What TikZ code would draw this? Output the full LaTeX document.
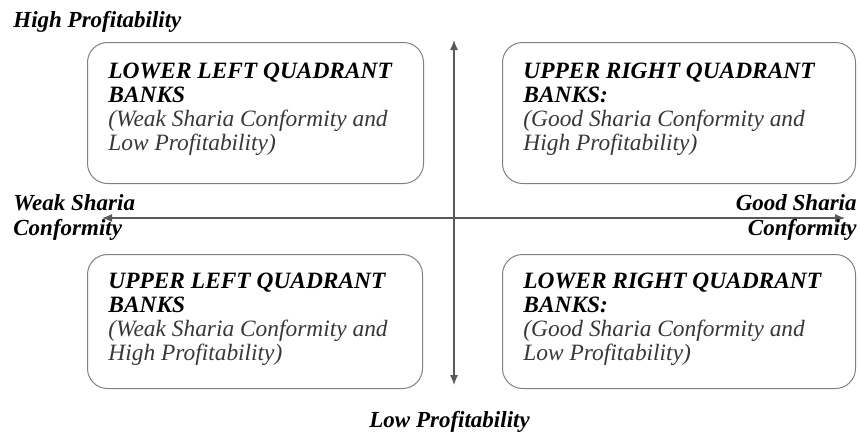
\documentclass[tikz,border=0pt]{standalone}
\usepackage{fontspec}
\setmainfont{Liberation Serif}
\usetikzlibrary{arrows.meta}
\tikzset{
    quad/.style={draw=black!50, line width=0.5pt, rounded corners=10pt, inner sep=0pt, anchor=north west},
    quadtext/.style={anchor=north west, align=left, inner sep=0pt, font=\fontsize{11.7}{12}\selectfont},
    axislabel/.style={inner sep=0pt, font=\fontsize{11.5}{12.5}\selectfont\bfseries\itshape},
    axis/.style={draw=black!65, line width=0.6pt, {Latex[length=5pt,width=4pt]}-{Latex[length=5pt,width=4pt]}}
}
\newcommand{\qhead}[1]{\textbf{\textit{#1}}}
\newcommand{\qnote}[1]{\textcolor{black!78}{\textit{#1}}}

\begin{document}
\begin{tikzpicture}[x=0.5pt, y=-0.5pt]
    \useasboundingbox (0,0) rectangle (860,434);

    % Ejes
    \coordinate (top) at (454,40);
    \coordinate (bottom) at (454,385);
    \coordinate (left) at (102,218);
    \coordinate (right) at (845,218);
    \draw[axis] (top) -- (bottom);
    \draw[axis] (left) -- (right);

    % Etiquetas de los ejes
    \node[axislabel, anchor=base west] (high) at (13,27) {High Profitability};
    \node[axislabel, anchor=base west] (low) at (369,427) {Low Profitability};
    \node[axislabel, anchor=north west, align=left] (weak) at (13,194) {Weak Sharia\\Conformity};
    \node[axislabel, anchor=north east, align=right] (good) at (857,194) {Good Sharia\\Conformity};

    % Cuadrantes
    \node[quad, minimum width=168pt, minimum height=70.5pt] (ll) at (87,42) {};
    \node[quad, minimum width=176.5pt, minimum height=70.5pt] (ur) at (502,42) {};
    \node[quad, minimum width=167.5pt, minimum height=67pt] (ul) at (87,254) {};
    \node[quad, minimum width=176.5pt, minimum height=67pt] (lr) at (502,254) {};

    % Textos de los cuadrantes
    \node[quadtext] (lltext) at ([shift={(21,21)}]ll.north west)
        {\qhead{LOWER LEFT QUADRANT}\\ \qhead{BANKS}\\
         \qnote{(Weak Sharia Conformity and}\\ \qnote{Low Profitability)}};
    \node[quadtext] (urtext) at ([shift={(21,21)}]ur.north west)
        {\qhead{UPPER RIGHT QUADRANT}\\ \qhead{BANKS:}\\
         \qnote{(Good Sharia Conformity and}\\ \qnote{High Profitability)}};
    \node[quadtext] (ultext) at ([shift={(21,19)}]ul.north west)
        {\qhead{UPPER LEFT QUADRANT}\\ \qhead{BANKS}\\
         \qnote{(Weak Sharia Conformity and}\\ \qnote{High Profitability)}};
    \node[quadtext] (lrtext) at ([shift={(21,19)}]lr.north west)
        {\qhead{LOWER RIGHT QUADRANT}\\ \qhead{BANKS:}\\
         \qnote{(Good Sharia Conformity and}\\ \qnote{Low Profitability)}};
\end{tikzpicture}
\end{document}
